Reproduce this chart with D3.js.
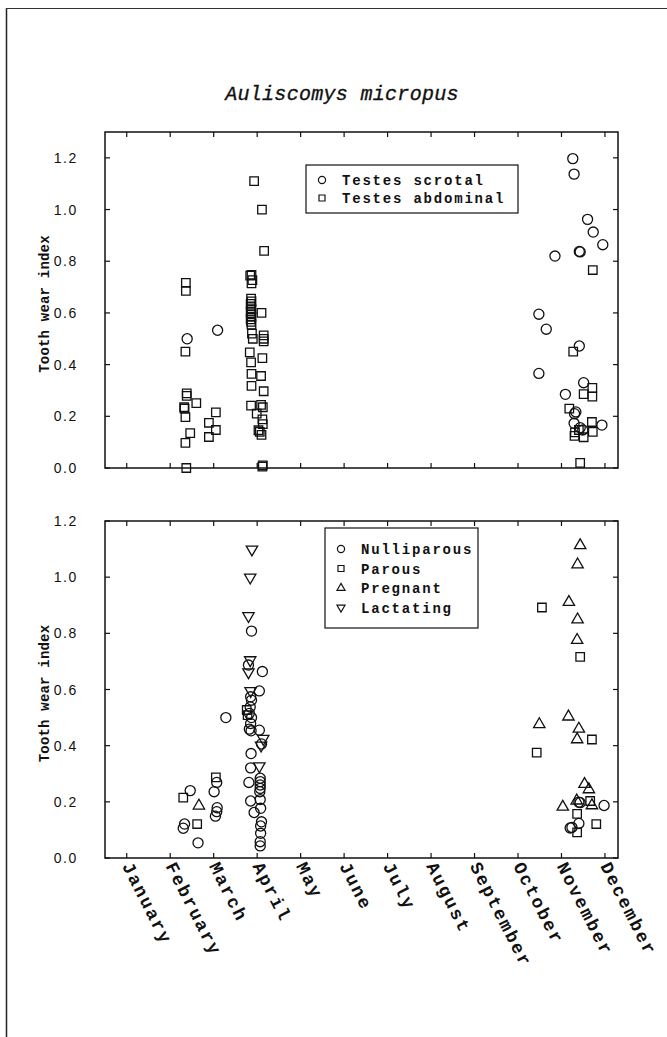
<!DOCTYPE html>
<html>
<head>
<meta charset="utf-8">
<script src="https://cdn.jsdelivr.net/npm/d3@7/dist/d3.min.js"></script>
<style>
  html, body { margin: 0; padding: 0; background: #fff; }
  svg { display: block; }
  .mono { font-family: "Liberation Mono", "DejaVu Sans Mono", monospace; font-weight: bold; fill: #111; }
  .tick-label { font-family: "Liberation Sans", Arial, sans-serif; fill: #111; }
</style>
</head>
<body>
<script>
// ---- data -------------------------------------------------------------
const months = ["January","February","March","April","May","June","July",
                "August","September","October","November","December"];
const yTicks = [0, 0.2, 0.4, 0.6, 0.8, 1.0, 1.2];

// Males: [month position, tooth wear index]
const testesScrotal = [
  [2.39,0.50],[3.09,0.533],
  [11.26,1.197],[11.29,1.137],[11.60,0.962],[11.73,0.913],[11.95,0.864],
  [11.41,0.838],[11.43,0.836],[10.85,0.82],[10.48,0.595],[10.65,0.537],
  [11.41,0.472],[10.48,0.366],[11.51,0.33],[11.09,0.285],[11.33,0.217],
  [11.30,0.21],[11.29,0.173],[11.43,0.156],[11.49,0.147],[11.93,0.166]
];
const testesAbdominal = [
  [2.36,0.716],[2.36,0.685],[2.35,0.45],[2.38,0.289],[2.38,0.279],[2.60,0.251],
  [2.32,0.235],[2.33,0.23],[2.35,0.197],[3.05,0.215],[2.89,0.175],[3.05,0.147],
  [2.46,0.135],[2.89,0.12],[2.35,0.097],[2.37,0.00],
  [3.93,1.11],[4.11,1.00],[4.16,0.84],
  [3.84,0.744],[3.87,0.747],[3.89,0.727],[3.87,0.714],
  [3.86,0.655],[3.87,0.645],[3.85,0.635],[3.86,0.625],[3.87,0.615],[3.85,0.605],
  [3.86,0.595],[3.87,0.585],[3.85,0.575],[3.86,0.565],[3.87,0.555],
  [4.10,0.60],[3.88,0.52],[3.90,0.50],[4.15,0.513],[4.15,0.50],[4.15,0.49],
  [3.83,0.447],[4.12,0.425],[3.86,0.409],[3.87,0.364],[4.09,0.356],[3.87,0.318],
  [4.15,0.297],[3.86,0.241],[4.09,0.244],[4.13,0.235],[3.99,0.21],[4.12,0.188],
  [4.13,0.17],[4.03,0.146],[4.06,0.14],[4.10,0.128],[4.12,0.005],[4.13,0.01],
  [11.72,0.766],[11.27,0.45],[11.71,0.31],[11.71,0.276],[11.51,0.286],[11.18,0.23],
  [11.40,0.147],[11.31,0.138],[11.30,0.124],[11.51,0.119],[11.70,0.178],[11.72,0.14],
  [11.43,0.02]
];

// Females
const nulliparous = [
  [2.46,0.24],[2.33,0.121],[2.30,0.106],[2.64,0.054],
  [3.07,0.269],[3.01,0.236],[3.08,0.179],[3.07,0.165],[3.04,0.149],[3.28,0.50],
  [3.87,0.808],[3.80,0.687],[4.12,0.664],[4.05,0.595],
  [3.85,0.574],[3.87,0.562],[3.84,0.538],[3.82,0.515],[3.87,0.50],[3.85,0.479],
  [3.82,0.459],[3.86,0.453],[4.05,0.455],[4.10,0.406],[3.86,0.372],[3.85,0.321],
  [4.07,0.284],[4.07,0.272],[4.07,0.26],[4.07,0.248],[3.81,0.269],[4.06,0.236],
  [4.07,0.208],[3.85,0.203],[4.08,0.177],[3.93,0.162],[4.10,0.129],[4.08,0.114],
  [4.08,0.088],[4.07,0.058],[4.07,0.043],
  [11.40,0.199],[11.43,0.197],[11.98,0.187],[11.40,0.123],[11.20,0.107],[11.24,0.109]
];
const parous = [
  [2.30,0.215],[2.62,0.121],[3.05,0.287],[3.76,0.527],[3.78,0.509],
  [10.55,0.892],[11.43,0.716],[11.70,0.422],[10.43,0.375],[11.66,0.203],
  [11.36,0.157],[11.80,0.121],[11.36,0.091]
];
const pregnant = [
  [2.66,0.186],
  [11.43,1.113],[11.37,1.045],[11.17,0.911],[11.37,0.849],[11.36,0.776],
  [11.16,0.503],[10.49,0.476],[11.40,0.46],[11.36,0.422],[11.53,0.263],
  [11.63,0.244],[11.35,0.204],[11.70,0.187],[11.03,0.182]
];
const lactating = [
  [3.88,1.099],[3.84,0.999],[3.80,0.862],[3.84,0.705],[3.80,0.662],
  [3.85,0.595],[4.14,0.425],[4.09,0.401],[4.05,0.327]
];

// ---- layout -----------------------------------------------------------
const W = 667, H = 1037;
const svg = d3.select("body").append("svg").attr("width", W).attr("height", H);

// page frame (left and top rules)
svg.append("line").attr("x1", 6.5).attr("x2", 6.5).attr("y1", 8).attr("y2", H)
  .attr("stroke", "#222").attr("stroke-width", 1.5);
svg.append("line").attr("x1", 6).attr("x2", W).attr("y1", 8.5).attr("y2", 8.5)
  .attr("stroke", "#333").attr("stroke-width", 1.2);

svg.append("text")
  .attr("x", 342).attr("y", 100)
  .attr("text-anchor", "middle")
  .style("font-family", "\"Liberation Mono\", monospace")
  .style("font-style", "italic")
  .style("font-size", "20px")
  .style("letter-spacing", "0.3px")
  .style("stroke", "#111").style("stroke-width", "0.35px")
  .attr("fill", "#111")
  .text("Auliscomys micropus");

const x = d3.scaleLinear().domain([0.5, 12.3]).range([105, 618]);

const symbolSize = { circle: 80, square: 72, triangle: 56, tdown: 56 };
function symPath(kind, s) {
  if (kind === "circle") return d3.symbol(d3.symbolCircle, s)();
  if (kind === "square") return d3.symbol(d3.symbolSquare, s)();
  return d3.symbol(d3.symbolTriangle, s)();
}

function panel(y, series, legendCfg) {
  const g = svg.append("g");
  const [x0, x1] = x.range();
  const [yb, yt] = y.range();

  // inward ticks on all four sides
  const tl = 5;
  months.forEach((m, i) => {
    const px = x(i + 1);
    g.append("line").attr("x1", px).attr("x2", px).attr("y1", yt).attr("y2", yt + tl);
    g.append("line").attr("x1", px).attr("x2", px).attr("y1", yb).attr("y2", yb - tl);
  });
  yTicks.forEach(v => {
    const py = y(v);
    g.append("line").attr("x1", x0).attr("x2", x0 + tl).attr("y1", py).attr("y2", py);
    g.append("line").attr("x1", x1).attr("x2", x1 - tl).attr("y1", py).attr("y2", py);
  });
  g.selectAll("line").attr("stroke", "#111").attr("stroke-width", 1.2);

  g.append("rect").attr("x", x0).attr("y", yt).attr("width", x1 - x0).attr("height", yb - yt)
    .attr("fill", "none").attr("stroke", "#111").attr("stroke-width", 1.5);

  // y tick labels
  g.selectAll(".tick-label").data(yTicks).join("text")
    .attr("class", "tick-label")
    .attr("x", x0 - 27).attr("y", d => y(d) + 5)
    .attr("text-anchor", "end")
    .style("font-size", "14px").style("letter-spacing", "1.6px")
    .text(d => d3.format(".1f")(d));

  // y axis title
  g.append("text").attr("class", "mono")
    .attr("transform", `translate(49,${(yb + yt) / 2 + 4}) rotate(-90)`)
    .attr("text-anchor", "middle")
    .style("font-size", "14px")
    .style("letter-spacing", "0.2px")
    .text("Tooth wear index");

  // markers
  series.forEach(s => {
    g.append("g").selectAll("path").data(s.data).join("path")
      .attr("d", symPath(s.kind, symbolSize[s.kind]))
      .attr("transform", d => `translate(${x(d[0])},${y(d[1])})${s.kind === "tdown" ? " rotate(180)" : ""}`)
      .attr("fill", "none").attr("stroke", "#111").attr("stroke-width", 1.3);
  });

  // legend
  const L = legendCfg;
  const lg = g.append("g");
  lg.append("rect").attr("x", L.x).attr("y", L.y).attr("width", L.w).attr("height", L.h)
    .attr("fill", "#fff").attr("stroke", "#111").attr("stroke-width", 1.2);
  series.forEach((s, i) => {
    const cy = L.y + L.first + i * L.step;
    lg.append("path")
      .attr("d", symPath(s.kind, symbolSize[s.kind] * 0.5))
      .attr("transform", `translate(${L.x + 16},${cy})${s.kind === "tdown" ? " rotate(180)" : ""}`)
      .attr("fill", "none").attr("stroke", "#111").attr("stroke-width", 1.2);
    lg.append("text").attr("class", "mono")
      .attr("x", L.x + 36).attr("y", cy + 5)
      .style("font-size", "14px").style("letter-spacing", "1.8px")
      .text(s.name);
  });
  return g;
}

const yTop = d3.scaleLinear().domain([0, 1.3]).range([468, 132]);
panel(yTop, [
  { name: "Testes scrotal", kind: "circle", data: testesScrotal },
  { name: "Testes abdominal", kind: "square", data: testesAbdominal }
], { x: 306, y: 165, w: 212, h: 48, first: 15, step: 18 });

const yBot = d3.scaleLinear().domain([0, 1.2]).range([858, 521]);
panel(yBot, [
  { name: "Nulliparous", kind: "circle", data: nulliparous },
  { name: "Parous", kind: "square", data: parous },
  { name: "Pregnant", kind: "triangle", data: pregnant },
  { name: "Lactating", kind: "tdown", data: lactating }
], { x: 325, y: 528, w: 153, h: 100, first: 21, step: 19.5 });

// rotated month labels under the lower panel
svg.append("g").selectAll("text").data(months).join("text")
  .attr("class", "mono")
  .attr("transform", (d, i) => `translate(${x(i + 1) - 5},${866}) rotate(63)`)
  .style("font-size", "18px").style("letter-spacing", "2px")
  .text(d => d);
</script>
</body>
</html>
